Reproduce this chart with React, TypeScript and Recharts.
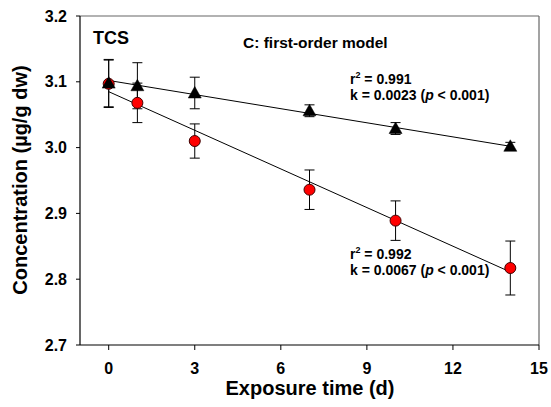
import React from 'react';
import { ScatterChart, Scatter, XAxis, YAxis, ErrorBar, ReferenceLine, Customized } from 'recharts';

const days = [0, 1, 3, 7, 10, 14];
const triMean = [3.098, 3.094, 3.083, 3.056, 3.029, 3.002];
const triErr = [0.036, 0.035, 0.024, 0.009, 0.009, 0.006];
const redMean = [3.097, 3.068, 3.010, 2.936, 2.889, 2.817];
const redErr = [0.036, 0.030, 0.026, 0.030, 0.030, 0.041];
const fitDays = [0, 14];
const triFit = [3.102, 3.002];
const redFit = [3.085, 2.811];
const xTicks = [0, 3, 6, 9, 12, 15];
const yTicks = [2.7, 2.8, 2.9, 3.0, 3.1, 3.2];

const triData = days.map((d, i) => ({ x: d, y: triMean[i], e: triErr[i] }));
const redData = days.map((d, i) => ({ x: d, y: redMean[i], e: redErr[i] }));
const triFitData = fitDays.map((d, i) => ({ x: d, y: triFit[i] }));
const redFitData = fitDays.map((d, i) => ({ x: d, y: redFit[i] }));

const FONT = "'Liberation Sans', Arial, Helvetica, sans-serif";

const Triangle = (props: any) => {
  const { cx, cy } = props;
  if (cx == null || cy == null) return <g />;
  return <polygon points={`${cx},${cy - 6.5} ${cx - 6.5},${cy + 5} ${cx + 6.5},${cy + 5}`} fill="#000" stroke="#000" strokeWidth={0.5} />;
};

const Dot = (props: any) => {
  const { cx, cy } = props;
  if (cx == null || cy == null) return <g />;
  return <circle cx={cx} cy={cy} r={5.5} fill="#ff0000" stroke="#400000" strokeWidth={1} />;
};

const Empty = () => <g />;

const Stats = ({ x, y, r2, k }: { x: number; y: number; r2: string; k: string }) => (
  <g fontFamily={FONT} fontWeight="bold" fontSize={14} fill="#000">
    <text x={x} y={y}>
      r<tspan dy={-6} fontSize={9}>2</tspan>
      <tspan dy={6}> = {r2}</tspan>
    </text>
    <text x={x} y={y + 16}>
      k = {k} (<tspan fontStyle="italic">p</tspan> &lt; 0.001)
    </text>
  </g>
);

const Annotations = () => (
  <g>
    <text x={93} y={44} fontFamily={FONT} fontWeight="bold" fontSize={18} fill="#000">TCS</text>
    <text x={243} y={48} fontFamily={FONT} fontWeight="bold" fontSize={15.5} fill="#000">C: first-order model</text>
    <Stats x={350} y={84} r2="0.991" k="0.0023" />
    <Stats x={350} y={259} r2="0.992" k="0.0067" />
    <text x={310} y={395} textAnchor="middle" fontFamily={FONT} fontWeight="bold" fontSize={20} fill="#000">Exposure time (d)</text>
    <text x={27} y={180} textAnchor="middle" transform="rotate(-90 27 180)" fontFamily={FONT} fontWeight="bold" fontSize={20} fill="#000">Concentration (µg/g dw)</text>
  </g>
);

export default function App() {
  const tickStyle = { fontSize: 16, fontWeight: 'bold', fill: '#000', fontFamily: FONT } as any;
  return (
    <div style={{ position: 'absolute', left: 0, top: 0, background: '#fff' }}>
      <ScatterChart width={551} height={407} margin={{ top: 16, right: 12, bottom: 0, left: 0 }}>
        <XAxis
          type="number"
          dataKey="x"
          domain={[-1, 15]}
          ticks={xTicks}
          allowDataOverflow
          height={62}
          tickSize={5}
          tickMargin={13}
          tick={tickStyle}
          axisLine={{ stroke: '#000', strokeWidth: 1.2 }}
          tickLine={{ stroke: '#000' }}
        />
        <YAxis
          type="number"
          dataKey="y"
          domain={[2.7, 3.2]}
          ticks={yTicks}
          allowDataOverflow
          width={80}
          tickSize={4}
          tickMargin={9}
          tick={tickStyle}
          tickFormatter={(v: number) => v.toFixed(1)}
          axisLine={{ stroke: '#000', strokeWidth: 1.2 }}
          tickLine={{ stroke: '#000' }}
        />
        <ReferenceLine y={3.2} stroke="#666" strokeWidth={1.2} />
        <ReferenceLine x={15} stroke="#666" strokeWidth={1.2} />
        <Scatter data={triFitData} line={{ stroke: '#000', strokeWidth: 1 }} shape={Empty} isAnimationActive={false} />
        <Scatter data={redFitData} line={{ stroke: '#000', strokeWidth: 1 }} shape={Empty} isAnimationActive={false} />
        <Scatter data={redData} shape={Dot} isAnimationActive={false}>
          <ErrorBar dataKey="e" direction="y" width={5} stroke="#000" strokeWidth={1} isAnimationActive={false} />
        </Scatter>
        <Scatter data={triData} shape={Triangle} isAnimationActive={false}>
          <ErrorBar dataKey="e" direction="y" width={5} stroke="#000" strokeWidth={1} isAnimationActive={false} />
        </Scatter>
        <Customized component={Annotations} />
      </ScatterChart>
    </div>
  );
}
